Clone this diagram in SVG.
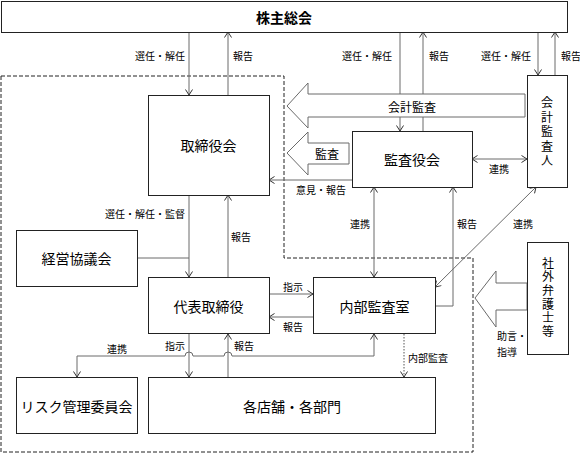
<svg xmlns="http://www.w3.org/2000/svg" width="580" height="454" viewBox="0 0 580 454">
<defs>
<style>
.box{fill:#fff;stroke:#222;stroke-width:1}
.ln{fill:none;stroke:#6a6a6a;stroke-width:1}
.dot{fill:none;stroke:#555;stroke-width:1;stroke-dasharray:1.5 1.5}
.big{fill:#fff;stroke:#6a6a6a;stroke-width:1}
.dash{fill:none;stroke:#222;stroke-width:1;stroke-dasharray:4 2}
text{font-family:"Noto Sans CJK JP","Noto Sans",sans-serif;fill:#000}
.n{font-size:14px;text-anchor:middle;dominant-baseline:central}
.t{font-size:14px;font-weight:bold;text-anchor:middle;dominant-baseline:central}
.v{font-size:12px;text-anchor:middle;writing-mode:vertical-rl}
.s{font-size:10px;dominant-baseline:central}
.m{font-size:12px;text-anchor:middle;dominant-baseline:central}
</style>
<marker id="a" viewBox="0 0 6 8" refX="6" refY="4" markerWidth="6" markerHeight="8" markerUnits="userSpaceOnUse" orient="auto-start-reverse">
<path d="M0.5,0.5 L6,4 L0.5,7.5" fill="none" stroke="#333" stroke-width="1"/>
</marker>
</defs>

<path class="dash" d="M1,76 H284 V258 H473 V452 H1 Z"/>

<g id="connectors">
<path class="ln" d="M189,32 V95" marker-end="url(#a)"/>
<path class="ln" d="M228,95 V32" marker-end="url(#a)"/>
<path class="ln" d="M400,32 V131" marker-end="url(#a)"/>
<path class="ln" d="M423,131 V32" marker-end="url(#a)"/>
<path class="ln" d="M538,32 V75" marker-end="url(#a)"/>
<path class="ln" d="M555,75 V32" marker-end="url(#a)"/>
<path class="big" d="M525,94 H308 V83 L287,106 L308,128 V117 H525 Z"/>
<path class="big" d="M349,143 H308 V132 L287,153 L308,175 V164 H349 Z"/>
<path class="ln" d="M352,180 H269" marker-end="url(#a)"/>
<path class="ln" d="M472,159 H527" marker-start="url(#a)" marker-end="url(#a)"/>
<path class="ln" d="M374,187 V277" marker-start="url(#a)" marker-end="url(#a)"/>
<path class="ln" d="M435,306 H453 V187" marker-end="url(#a)"/>
<path class="ln" d="M435,287 L536,187" marker-start="url(#a)" marker-end="url(#a)"/>
<path class="ln" d="M189,195 V277" marker-end="url(#a)"/>
<path class="ln" d="M137,258 H189"/>
<path class="ln" d="M228,277 V195" marker-end="url(#a)"/>
<path class="ln" d="M269,294 H313" marker-end="url(#a)"/>
<path class="ln" d="M313,317 H269" marker-end="url(#a)"/>
<path class="ln" d="M189,334 V377" marker-end="url(#a)"/>
<path class="ln" d="M228,377 V334" marker-end="url(#a)"/>
<path class="ln" d="M374,334 V356 H232 A4,4 0 0 0 224,356 H193 A4,4 0 0 0 185,356 H77 V377" marker-start="url(#a)" marker-end="url(#a)"/>
<path class="dot" d="M404,334 V377" marker-end="url(#a)"/>
<path class="big" d="M527,283 H496 V271 L475,298 L496,327 V310 H527 Z"/>
</g>

<g id="labels">
<text class="s" x="185" y="55" text-anchor="end">選任・解任</text>
<text class="s" x="233" y="55">報告</text>
<text class="s" x="392" y="55" text-anchor="end">選任・解任</text>
<text class="s" x="429" y="55">報告</text>
<text class="s" x="531" y="55" text-anchor="end">選任・解任</text>
<text class="s" x="561" y="55">報告</text>
<text class="m" x="412" y="106">会計監査</text>
<text class="m" x="327" y="153">監査</text>
<text class="s" x="321" y="189" text-anchor="middle">意見・報告</text>
<text class="s" x="499" y="168" text-anchor="middle">連携</text>
<text class="s" x="360" y="223" text-anchor="middle">連携</text>
<text class="s" x="467" y="223" text-anchor="middle">報告</text>
<text class="s" x="523" y="223" text-anchor="middle">連携</text>
<text class="s" x="185" y="213" text-anchor="end">選任・解任・監督</text>
<text class="s" x="241" y="236" text-anchor="middle">報告</text>
<text class="s" x="293" y="286" text-anchor="middle">指示</text>
<text class="s" x="293" y="326" text-anchor="middle">報告</text>
<text class="s" x="175" y="345" text-anchor="middle">指示</text>
<text class="s" x="244" y="345" text-anchor="middle">報告</text>
<text class="s" x="117" y="348" text-anchor="middle">連携</text>
<text class="s" x="408" y="357">内部監査</text>
<text class="s" x="497" y="335">助言・</text>
<text class="s" x="497" y="351">指導</text>
</g>

<g id="n-shareholders"><rect class="box" x="1.5" y="1.5" width="566" height="31"/><text class="t" x="284" y="17">株主総会</text></g>
<g id="n-board"><rect class="box" x="148.5" y="95.5" width="121" height="100"/><text class="n" x="208.5" y="145">取締役会</text></g>
<g id="n-auditboard"><rect class="box" x="352.5" y="131.5" width="120" height="56"/><text class="n" x="412" y="159">監査役会</text></g>
<g id="n-accountant"><rect class="box" x="527.5" y="75.5" width="40" height="112"/>
<text class="v" x="547" y="133" letter-spacing="2.5">会計監査人</text></g>
<g id="n-council"><rect class="box" x="16.5" y="230.5" width="121" height="56"/><text class="n" x="76.5" y="258">経営協議会</text></g>
<g id="n-ceo"><rect class="box" x="148.5" y="277.5" width="121" height="56"/><text class="n" x="208.5" y="306">代表取締役</text></g>
<g id="n-internal"><rect class="box" x="313.5" y="277.5" width="122" height="56"/><text class="n" x="374.5" y="306">内部監査室</text></g>
<g id="n-lawyer"><rect class="box" x="527.5" y="242.5" width="41" height="112"/>
<text class="v" x="548" y="298" letter-spacing="1.6">社外弁護士等</text></g>
<g id="n-risk"><rect class="box" x="16.5" y="377.5" width="121" height="56"/><text class="n" x="76.5" y="406">リスク管理委員会</text></g>
<g id="n-branches"><rect class="box" x="148.5" y="377.5" width="287" height="56"/><text class="n" x="292" y="406">各店舗・各部門</text></g>
</svg>
